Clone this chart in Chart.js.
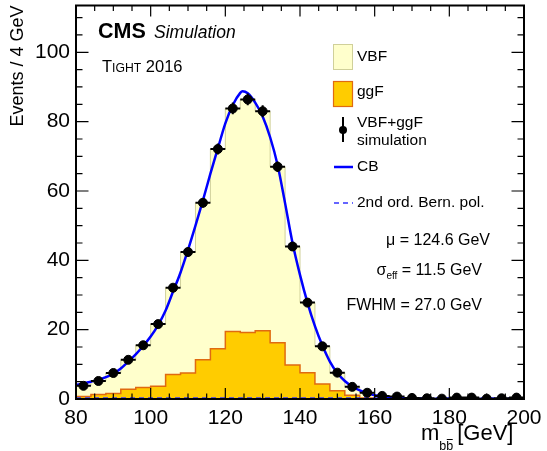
<!DOCTYPE html>
<html>
<head>
<meta charset="utf-8">
<script src="https://cdn.jsdelivr.net/npm/chart.js@4.4.0/dist/chart.umd.min.js"></script>
<style>
  html, body { margin: 0; padding: 0; background: #fff; }
  #wrap { width: 547px; height: 451px; }
</style>
</head>
<body>
<div id="wrap"><canvas id="chart"></canvas></div>
<script>
// bins of 4 GeV, 80 -> 200
const binEdges = [80, 84, 88, 92, 96, 100, 104, 108, 112, 116, 120, 124, 128, 132, 136, 140,
  144, 148, 152, 156, 160, 164, 168, 172, 176, 180, 184, 188, 192, 196, 200];
const binCenters = [82, 86, 90, 94, 98, 102, 106, 110, 114, 118, 122, 126, 130, 134, 138,
  142, 146, 150, 154, 158, 162, 166, 170, 174, 178, 182, 186, 190, 194, 198];

// stacked histograms
const ggfValues = [0.7, 1.3, 1.6, 2.8, 3.3, 3.7, 7.1, 7.5, 11.3, 14.5, 19.5, 19.2, 19.7, 16.2, 9.8,
  7.6, 4.3, 2.4, 1.1, 0.3, 0, 0, 0, 0, 0, 0, 0, 0, 0, 0];
const vbfValues = [3.1, 3.9, 5.9, 8.5, 12.2, 17.9, 25.0, 34.9, 45.3, 57.6, 64.3, 67.2, 63.3, 50.8, 34.2,
  20.2, 10.9, 5.2, 2.4, 1.5, 0.9, 0.7, 0.3, 0.2, 0.1, 0.4, 0.4, 0.1, 0.2, 0.4];

// VBF+ggF simulation points
const simValues = [3.8, 5.2, 7.5, 11.3, 15.5, 21.6, 32.1, 42.4, 56.6, 72.1, 83.8, 86.4, 83.0, 67.0, 44.0,
  27.8, 15.2, 7.6, 3.5, 1.8, 0.9, 0.7, 0.3, 0.2, 0.1, 0.4, 0.4, 0.1, 0.2, 0.4];
const simErrors = [0.4, 0.5, 0.6, 0.7, 0.8, 1.0, 1.1, 1.3, 1.4, 1.6, 1.7, 1.7, 1.7, 1.5, 1.3,
  1.0, 0.8, 0.6, 0.4, 0.3, 0.2, 0.2, 0.1, 0.1, 0.1, 0.1, 0.1, 0.1, 0.1, 0.1];

// CB fit
const cbMass = [80, 82, 84, 86, 88, 90, 92, 94, 96, 98, 100, 102, 104, 106, 108, 110, 112, 114, 116, 118,
  120, 122, 124, 124.6, 126, 128, 130, 132, 134, 136, 138, 140, 142, 144, 146, 148, 150, 152, 154, 156,
  158, 160, 164, 168, 172, 180, 200];
const cbValues = [4.0, 4.5, 5.0, 5.5, 6.3, 7.3, 8.8, 10.8, 12.9, 15.3, 18.0, 21.3, 25.5, 31.0, 36.5, 43.0,
  50.0, 57.3, 65.0, 72.3, 79.5, 84.8, 88.3, 88.8, 88.2, 85.5, 81.5, 75.5, 67.5, 56.5, 45.0, 35.8, 27.8,
  21.0, 15.4, 10.8, 7.5, 5.2, 3.6, 2.5, 1.7, 1.1, 0.5, 0.25, 0.1, 0.03, 0];

// background polynomial (flat, almost zero)
const bernMass = [80, 200];
const bernValues = [0.3, 0.3];

const xTicks = [80, 100, 120, 140, 160, 180, 200];
const yTicks = [0, 20, 40, 60, 80, 100];

const FONT = '"Liberation Sans", Arial, Helvetica, sans-serif';

function histPoints(values) {
  const pts = [{ x: binEdges[0], y: 0 }];
  values.forEach((v, i) => pts.push({ x: binEdges[i], y: v }));
  pts.push({ x: binEdges[binEdges.length - 1], y: 0 });
  return pts;
}

const totalValues = vbfValues.map((v, i) => v + ggfValues[i]);

// ticks inside the frame, ROOT style
const frameTicks = {
  id: 'frameTicks',
  afterDatasetsDraw(chart) {
    const { ctx, chartArea: a, scales: { x, y } } = chart;
    ctx.save();
    ctx.strokeStyle = '#000';
    ctx.lineWidth = 1.2;
    ctx.beginPath();
    for (let v = 80; v <= 200; v += 5) {
      const px = x.getPixelForValue(v);
      const len = v % 20 === 0 ? 11 : 5.5;
      ctx.moveTo(px, a.bottom); ctx.lineTo(px, a.bottom - len);
      ctx.moveTo(px, a.top); ctx.lineTo(px, a.top + len);
    }
    for (let v = 0; v <= 110; v += 5) {
      const py = y.getPixelForValue(v);
      const len = v % 20 === 0 ? 12.5 : 6.5;
      ctx.moveTo(a.left, py); ctx.lineTo(a.left + len, py);
      ctx.moveTo(a.right, py); ctx.lineTo(a.right - len, py);
    }
    ctx.stroke();
    ctx.lineWidth = 2;
    ctx.strokeRect(a.left, a.top, a.right - a.left, a.bottom - a.top);

    // error bars of the simulation points
    ctx.lineWidth = 2;
    ctx.beginPath();
    binCenters.forEach((m, i) => {
      const py = y.getPixelForValue(simValues[i]);
      ctx.moveTo(x.getPixelForValue(m - 2), py);
      ctx.lineTo(x.getPixelForValue(m + 2), py);
      const px = x.getPixelForValue(m);
      ctx.moveTo(px, y.getPixelForValue(simValues[i] + simErrors[i]));
      ctx.lineTo(px, y.getPixelForValue(Math.max(0, simValues[i] - simErrors[i])));
    });
    ctx.stroke();
    ctx.restore();
  }
};

// labels, legend, x title
const overlay = {
  id: 'overlay',
  afterDraw(chart) {
    const ctx = chart.ctx;
    ctx.save();
    ctx.fillStyle = '#000';
    ctx.textBaseline = 'alphabetic';

    ctx.font = 'bold 21.5px ' + FONT;
    ctx.fillText('CMS', 98, 38);
    ctx.font = 'italic 17.5px ' + FONT;
    ctx.fillText('Simulation', 154, 38);

    // TIGHT in small caps
    let tx = 102;
    ctx.font = '16.5px ' + FONT;
    ctx.fillText('T', tx, 72);
    tx += ctx.measureText('T').width;
    ctx.font = '12.2px ' + FONT;
    ctx.fillText('IGHT', tx, 72);
    tx += ctx.measureText('IGHT').width;
    ctx.font = '16.5px ' + FONT;
    ctx.fillText(' 2016', tx, 72);

    // legend
    const lx = 333, tx0 = 357;
    ctx.lineWidth = 1;
    ctx.fillStyle = '#ffffcc';
    ctx.fillRect(lx, 44, 20, 26);
    ctx.strokeStyle = '#d0d09a';
    ctx.strokeRect(lx + 0.5, 44.5, 19, 25);
    ctx.fillStyle = '#ffcc00';
    ctx.fillRect(lx, 81, 20, 26);
    ctx.strokeStyle = '#e06a10';
    ctx.lineWidth = 1.2;
    ctx.strokeRect(lx + 0.5, 81.5, 19, 25);

    ctx.strokeStyle = '#000';
    ctx.lineWidth = 2;
    ctx.beginPath();
    ctx.moveTo(343, 117); ctx.lineTo(343, 142);
    ctx.stroke();
    ctx.fillStyle = '#000';
    ctx.beginPath();
    ctx.arc(343, 130, 4, 0, Math.PI * 2);
    ctx.fill();

    ctx.strokeStyle = '#0000ff';
    ctx.lineWidth = 2.5;
    ctx.beginPath();
    ctx.moveTo(334, 167); ctx.lineTo(353, 167);
    ctx.stroke();
    ctx.lineWidth = 1.5;
    ctx.strokeStyle = '#3333ff';
    ctx.setLineDash([5, 4]);
    ctx.beginPath();
    ctx.moveTo(334, 203); ctx.lineTo(353, 203);
    ctx.stroke();
    ctx.setLineDash([]);

    ctx.fillStyle = '#000';
    ctx.font = '15.5px ' + FONT;
    ctx.textBaseline = 'middle';
    ctx.fillText('VBF', tx0, 57);
    ctx.fillText('ggF', tx0, 92);
    ctx.fillText('VBF+ggF', tx0, 123);
    ctx.fillText('simulation', tx0, 141);
    ctx.fillText('CB', tx0, 167);
    ctx.fillText('2nd ord. Bern. pol.', tx0, 203);

    // fit results
    ctx.textBaseline = 'alphabetic';
    ctx.textAlign = 'right';
    ctx.font = '16px ' + FONT;
    ctx.fillText('\u03bc = 124.6 GeV', 490, 245);
    ctx.fillText('FWHM = 27.0 GeV', 482, 310);
    const rest = ' = 11.5 GeV';
    ctx.fillText(rest, 482, 275);
    let sx = 482 - ctx.measureText(rest).width;
    ctx.font = '10px ' + FONT;
    ctx.fillText('eff', sx, 279);
    sx -= ctx.measureText('eff').width;
    ctx.font = '16px ' + FONT;
    ctx.fillText('\u03c3', sx, 275);

    // x title  m_{b bbar} [GeV]
    ctx.textAlign = 'left';
    ctx.font = '22px ' + FONT;
    ctx.fillText('m', 421, 440);
    let mx = 421 + ctx.measureText('m').width;
    ctx.font = '12.5px ' + FONT;
    ctx.fillText('b', mx, 450);
    const bw = ctx.measureText('b').width;
    ctx.fillText('b', mx + bw, 450);
    ctx.strokeStyle = '#000';
    ctx.lineWidth = 1;
    ctx.beginPath();
    ctx.moveTo(mx + bw + 0.5, 439.5); ctx.lineTo(mx + 2 * bw - 0.5, 439.5);
    ctx.stroke();
    ctx.font = '22px ' + FONT;
    ctx.fillText('[GeV]', mx + 2 * bw + 4, 440);
    ctx.restore();
  }
};

new Chart(document.getElementById('chart'), {
  type: 'line',
  data: {
    datasets: [
      {
        label: 'VBF+ggF simulation',
        type: 'scatter',
        data: binCenters.map((m, i) => ({ x: m, y: simValues[i] })),
        backgroundColor: '#000',
        borderColor: '#000',
        pointRadius: 4.5,
        pointHoverRadius: 4.5,
        order: 0
      },
      {
        label: 'CB',
        data: cbMass.map((m, i) => ({ x: m, y: cbValues[i] })),
        borderColor: '#0000ff',
        borderWidth: 2.5,
        pointRadius: 0,
        cubicInterpolationMode: 'monotone',
        fill: false,
        order: 1
      },
      {
        label: '2nd ord. Bern. pol.',
        data: bernMass.map((m, i) => ({ x: m, y: bernValues[i] })),
        borderColor: '#3333ff',
        borderWidth: 1.5,
        borderDash: [5, 4],
        pointRadius: 0,
        fill: false,
        order: 2
      },
      {
        label: 'ggF',
        data: histPoints(ggfValues),
        stepped: 'before',
        borderColor: '#e06a10',
        borderWidth: 1.5,
        backgroundColor: '#ffcc00',
        fill: 'origin',
        pointRadius: 0,
        order: 3
      },
      {
        label: 'VBF',
        data: histPoints(totalValues),
        stepped: 'before',
        borderColor: '#d0d09a',
        borderWidth: 1,
        backgroundColor: '#ffffcc',
        fill: 'origin',
        pointRadius: 0,
        order: 4
      }
    ]
  },
  options: {
    responsive: true,
    maintainAspectRatio: false,
    animation: false,
    events: [],
    layout: { padding: { top: 5, right: 23, left: 0, bottom: 0 } },
    plugins: { legend: { display: false }, tooltip: { enabled: false } },
    scales: {
      x: {
        type: 'linear',
        min: 80,
        max: 200,
        afterFit: s => { s.height = 52; s.paddingLeft = 0; s.paddingRight = 0; },
        afterBuildTicks: s => { s.ticks = xTicks.map(v => ({ value: v })); },
        grid: { display: false, drawTicks: false },
        border: { display: false },
        ticks: { color: '#000', padding: 7, maxRotation: 0, font: { family: FONT, size: 21 } }
      },
      y: {
        min: 0,
        max: 113.5,
        afterFit: s => { s.width = 76; s.paddingTop = 0; s.paddingBottom = 0; },
        afterBuildTicks: s => { s.ticks = yTicks.map(v => ({ value: v })); },
        grid: { display: false, drawTicks: false },
        border: { display: false },
        ticks: { color: '#000', padding: 6, font: { family: FONT, size: 21 } },
        title: {
          display: true,
          text: 'Events / 4 GeV',
          align: 'end',
          color: '#000',
          padding: { top: 7, bottom: 0 },
          font: { family: FONT, size: 18 }
        }
      }
    }
  },
  plugins: [frameTicks, overlay]
});
</script>
</body>
</html>
